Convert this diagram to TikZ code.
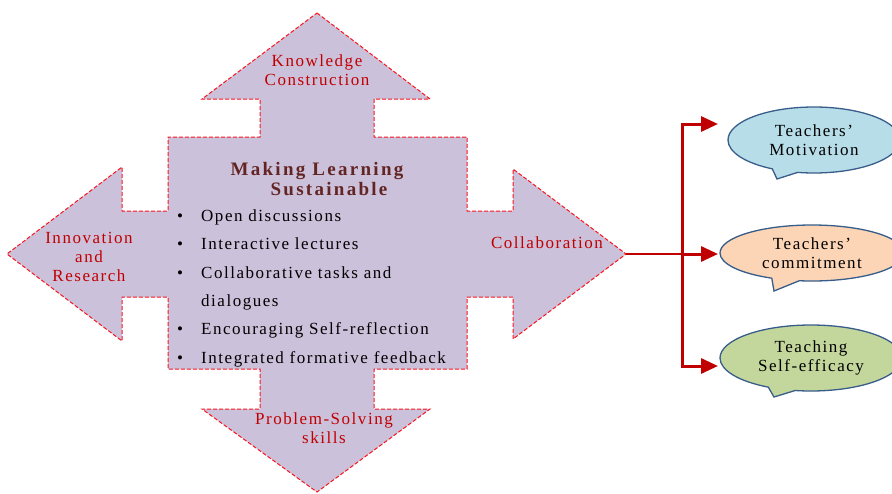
\documentclass[tikz,border=0pt]{standalone}
\usepackage{fontspec}
\setmainfont{Liberation Serif}[LetterSpace=9]
\newfontfamily\headfont{Liberation Serif}[LetterSpace=12]
\usetikzlibrary{arrows.meta,shapes.callouts}

\definecolor{crossviolet}{RGB}{204,193,218}
\definecolor{dashred}{RGB}{250,20,30}
\definecolor{labelred}{RGB}{192,0,0}
\definecolor{titlebrown}{RGB}{99,37,35}
\definecolor{linkred}{RGB}{192,0,0}
\definecolor{bubbleedge}{RGB}{56,93,138}
\definecolor{bubbleblue}{RGB}{183,221,232}
\definecolor{bubblepeach}{RGB}{251,213,181}
\definecolor{bubblegreen}{RGB}{195,214,155}

\tikzset{
  crossshape/.style={fill=crossviolet, draw=dashred, line width=1pt, dash pattern=on 4pt off 2pt},
  armlabel/.style={text=labelred, align=center, inner sep=0pt, font=\fontsize{17}{19}\selectfont},
  titleline/.style={text=titlebrown, anchor=base, inner sep=0pt, font=\headfont\bfseries\fontsize{19}{20}\selectfont},
  bulletline/.style={anchor=base west, inner sep=0pt, font=\fontsize{17}{19}\selectfont},
  bubble/.style={ellipse callout, draw=bubbleedge, line width=1.3pt, align=center, inner sep=0pt,
    callout pointer arc=18, font=\fontsize{17}{19}\selectfont},
  feed/.style={draw=linkred, line width=3pt, -{Triangle[length=17pt,width=15pt]}},
}

\begin{document}
\begin{tikzpicture}[x=1pt, y=-1pt]
\useasboundingbox (0,0) rectangle (892,493);
\clip (0,0) rectangle (892,493);

% four-way arrow around the central panel
\path[crossshape]
  (317,13) -- (430,99) -- (374,99) -- (374,137) -- (467,137) -- (467,211)
  -- (513,211) -- (513,169) -- (626,254) -- (513,339) -- (513,297) -- (467,297)
  -- (467,369) -- (374,369) -- (374,409) -- (430,409) -- (317,492) -- (202,409)
  -- (260,409) -- (260,369) -- (168,369) -- (168,297) -- (122,297) -- (122,341)
  -- (7,254) -- (122,167) -- (122,211) -- (168,211) -- (168,137) -- (260,137)
  -- (260,99) -- (202,99) -- cycle;

% arm labels
\node[armlabel] (knowledge) at (317,70.5) {Knowledge\\Construction};
\node[armlabel] (innovation) at (89,256.5) {Innovation\\and\\Research};
\node[armlabel] (collab) at (547,242.5) {Collaboration};
\node[armlabel] (problem) at (324,428) {Problem-Solving\\skills};

% central title and bullet list
\node[titleline] (title1) at (317,175) {Making Learning};
\node[titleline] (title2) at (329,195) {Sustainable};

\foreach \yy/\txt [count=\i] in {221/Open discussions, 249/Interactive lectures,
    278/Collaborative tasks and, 334/Encouraging Self-reflection,
    363/Integrated formative feedback}{
  \node[bulletline] (dot\i) at (177,\yy) {\textbullet};
  \node[bulletline] (item\i) at (201,\yy) {\txt};
}
\node[bulletline] (item3b) at (201,306) {dialogues};

% outcome bubbles
\node[bubble, fill=bubbleblue, minimum width=172pt, minimum height=66pt,
  callout absolute pointer={(777,179)}] (motivation) at (814,140) {Teachers’\\Motivation};
\node[bubble, fill=bubblepeach, minimum width=184pt, minimum height=56pt,
  callout absolute pointer={(774,291)}] (commitment) at (812,253) {Teachers’\\commitment};
\node[bubble, fill=bubblegreen, minimum width=182pt, minimum height=66pt,
  callout absolute pointer={(774,397)}] (efficacy) at (811,358) {Teaching\\Self-efficacy};

% connectors from the collaboration arm
\coordinate (collabtip) at (626,254);
\coordinate (junction) at (682,254);
\coordinate (toMot) at (718,124);
\coordinate (toCom) at (718,254);
\coordinate (toEff) at (718,366);
\draw[linkred, line width=2pt] (collabtip) -- (junction);
\draw[feed] (junction) -- (toCom);
\draw[feed] (junction) |- (toMot);
\draw[feed] (junction) |- (toEff);
\end{tikzpicture}
\end{document}
